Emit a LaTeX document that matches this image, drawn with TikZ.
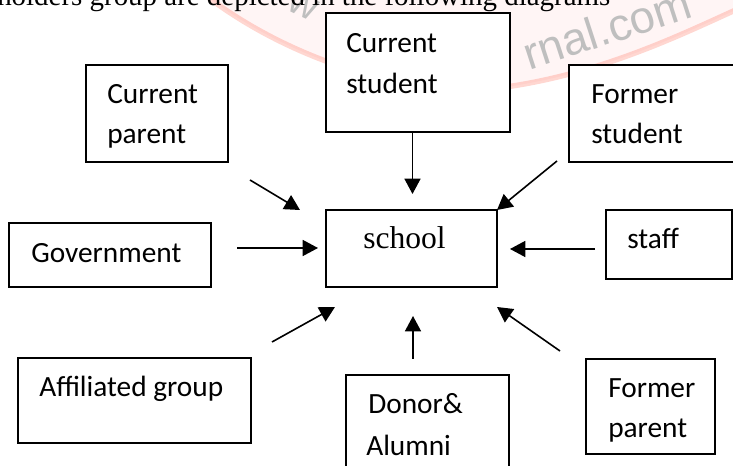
\documentclass[tikz,border=0pt]{standalone}
\usepackage{fontspec}
\setmainfont{Liberation Serif}
\newfontfamily\boxfont{Carlito}
\newfontfamily\wmfont{Liberation Sans}
\usetikzlibrary{arrows.meta}
\tikzset{
  x=0.75pt,y=-0.75pt,
  box/.style={draw=black,line width=1pt,fill=white,inner sep=0pt},
  lbl/.style={font=\boxfont\fontsize{22}{30}\selectfont,anchor=base west,align=left,inner sep=0pt},
  arr/.style={draw=black,line width=1.2pt,-{Stealth[length=11.5pt,width=12pt,inset=0pt]}},
  wm/.style={draw=red!75!orange,draw opacity=.18,line width=4pt,fill=red,fill opacity=.04},
  wmtext/.style={text=black!25,inner sep=0pt}
}
\newcommand{\bx}[5]{\path[box] (#2,#3) rectangle (#4,#5) node[pos=.5,inner sep=0pt] (#1) {};}
\begin{document}
\begin{tikzpicture}
\useasboundingbox (0,0) rectangle (733,466);
\clip (0,0) rectangle (733,466);
% watermark
\draw[wm] (205,-5) .. controls (290,60) and (400,92) .. (480,90) .. controls (590,80) and (680,35) .. (740,8) -- (740,-5) -- cycle;
\node[font=\wmfont\fontsize{30}{30}\selectfont,wmtext,rotate=-25] (wma) at (303,6) {w};
\node[font=\wmfont\fontsize{34}{34}\selectfont,wmtext,rotate=18] (wmb) at (607,28) {rnal.com};
\node[font=\fontsize{21.7}{24}\selectfont,anchor=base west,inner sep=0pt] (title) at (-3,5.5) {holders group are depicted in the following diagrams};
% boxes
\bx{cs}{326}{13}{510}{132}
\bx{cp}{86}{65}{228}{162}
\bx{fs}{569}{65}{740}{162}
\bx{sc}{326}{210}{497}{287}
\bx{st}{606}{210}{732}{279}
\bx{go}{9}{223}{211}{287}
\bx{af}{18}{358}{251}{443}
\bx{fp}{586}{359}{715}{454}
\draw[box] (346,470) -- (346,375) -- (509,375) -- (509,470);
% labels
\node[lbl] (t1) at (346,53) {Current};
\node[lbl] (t2) at (346,94) {student};
\node[lbl] (t3) at (107,104) {Current};
\node[lbl] (t4) at (107,144) {parent};
\node[lbl] (t5) at (591,104) {Former};
\node[lbl] (t6) at (591,144) {student};
\node[lbl] (t7) at (31,263) {Government};
\node[lbl] (t8) at (39,397) {Affiliated group};
\node[lbl] (t9) at (368,414) {Donor\&};
\node[lbl] (t10) at (366,456) {Alumni};
\node[lbl] (t11) at (608,398) {Former};
\node[lbl] (t12) at (608,438) {parent};
\node[lbl] (t13) at (627,249) {staff};
\node[font=\fontsize{23.7}{26}\selectfont,anchor=base west,inner sep=0pt] (tsc) at (363,249) {school};
% arrows
\coordinate (a1) at (412.5,132); \coordinate (a2) at (412.5,194);
\draw[arr] (a1) -- (a2);
\coordinate (b1) at (557,161); \coordinate (b2) at (497,210);
\draw[arr] (b1) -- (b2);
\coordinate (c1) at (250,180); \coordinate (c2) at (300,210);
\draw[arr] (c1) -- (c2);
\coordinate (d1) at (237,248); \coordinate (d2) at (318,248);
\draw[arr] (d1) -- (d2);
\coordinate (e1) at (272,342); \coordinate (e2) at (335,307);
\draw[arr] (e1) -- (e2);
\coordinate (f1) at (413,359); \coordinate (f2) at (413,316);
\draw[arr] (f1) -- (f2);
\coordinate (g1) at (595,249); \coordinate (g2) at (510,249);
\draw[arr] (g1) -- (g2);
\coordinate (h1) at (560,351); \coordinate (h2) at (497,307);
\draw[arr] (h1) -- (h2);
\end{tikzpicture}
\end{document}
